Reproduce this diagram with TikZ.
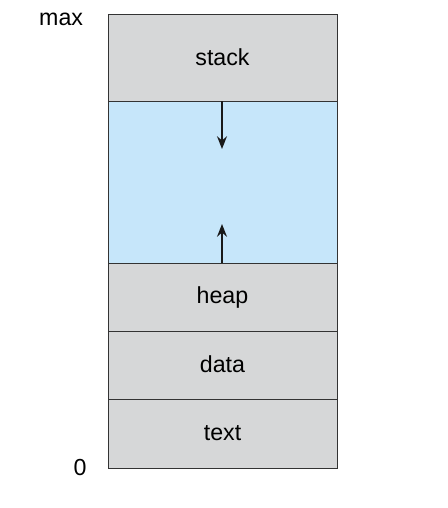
\documentclass[tikz,border=0pt]{standalone}
\usepackage{fontspec}
\setmainfont{Liberation Sans}
\usetikzlibrary{arrows.meta}
\definecolor{segGray}{RGB}{214,215,216}
\definecolor{segBlue}{RGB}{198,230,250}
\tikzset{
  seg/.style={draw=black!80, line width=0.7pt},
  lbl/.style={font=\fontsize{16.5}{19}\selectfont},
  growarrow/.style={-{Stealth[length=9pt,width=7pt]}, line width=1.5pt, black!90}
}
\begin{document}
\begin{tikzpicture}[x=0.025cm, y=-0.025cm]
			\useasboundingbox (0,0) rectangle (448,508);
			\coordinate (topleft) at (108, 14);
			\coordinate (stackbot) at (337, 101);
			\coordinate (heaptop) at (108, 263);
			\coordinate (botright) at (337, 468);
			% segments of the address space
			\filldraw[seg, fill=segGray] (topleft) rectangle (stackbot);
			\filldraw[seg, fill=segBlue] (108, 101) rectangle (337, 263);
			\filldraw[seg, fill=segGray] (heaptop) rectangle (337, 331);
			\filldraw[seg, fill=segGray] (108, 331) rectangle (337, 399);
			\filldraw[seg, fill=segGray] (108, 399) rectangle (botright);
			% labels
			\node[lbl] (stack) at (222.5, 57) {stack};
			\node[lbl] (heap) at (222.5, 297) {heap};
			\node[lbl] (data) at (222.5, 364) {data};
			\node[lbl] (text) at (222.5, 433) {text};
			\node[lbl, anchor=east] (max) at (88, 19) {max};
			\node[lbl] (zero) at (80, 468) {0};
			% stack grows down, heap grows up
			\coordinate (sfrom) at (222, 101);
			\coordinate (sto) at (222, 149);
			\coordinate (hfrom) at (222, 263);
			\coordinate (hto) at (222, 224);
			\draw[growarrow] (sfrom) -- (sto);
			\draw[growarrow] (hfrom) -- (hto);
\end{tikzpicture}
\end{document}
